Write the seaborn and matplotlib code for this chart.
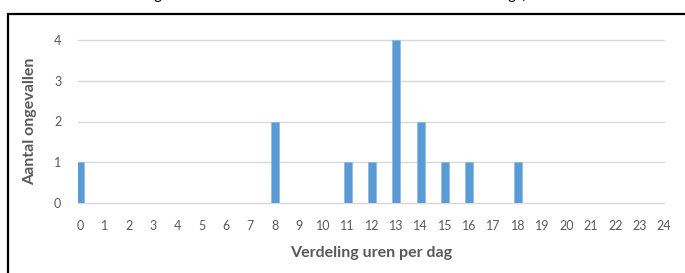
import matplotlib
matplotlib.use("Agg")
import matplotlib.pyplot as plt
import seaborn as sns
import pandas as pd
from matplotlib.patches import Rectangle

hours = [0, 8, 11, 12, 13, 14, 15, 16, 18]
counts = [1, 2, 1, 1, 4, 2, 1, 1, 1]
x_ticks = list(range(0, 25))
y_ticks = [0, 1, 2, 3, 4]
x_label = "Verdeling uren per dag"
y_label = "Aantal ongevallen"

df = pd.DataFrame({"uur": hours, "aantal": counts})

sns.set_theme(style="white")
plt.rcParams["font.family"] = ["Lato", "DejaVu Sans"]

W, H = 685, 273
fig = plt.figure(figsize=(W / 100, H / 100), dpi=100)
left, right, top, bottom = 78, 664, 40, 203
ax = fig.add_axes([left / W, 1 - bottom / H, (right - left) / W, (bottom - top) / H])

sns.barplot(data=df, x="uur", y="aantal", native_scale=True, width=0.32,
            color="#5B9BD5", saturation=1, ax=ax, zorder=3,
            edgecolor="#8DB8E0", linewidth=0.5)

ax.set_xlim(-0.08, 24.0)
ax.set_ylim(0, 4)
ax.set_xticks(x_ticks)
ax.set_xticklabels([str(t) for t in x_ticks])
ax.set_yticks(y_ticks)
for s in ax.spines.values():
    s.set_visible(False)
ax.grid(False)
for yv in y_ticks:
    ax.axhline(yv, color="#D9D9D9", lw=1.0, zorder=1, clip_on=False)
ax.tick_params(axis="both", length=0, labelsize=9, labelcolor="#595959")
ax.tick_params(axis="x", pad=12)
ax.tick_params(axis="y", pad=12)
ax.set_xlabel(x_label, fontsize=11.5, fontweight="bold", color="#595959", labelpad=10)
ax.set_ylabel(y_label, fontsize=11.5, fontweight="bold", color="#595959", labelpad=12)

# document frame
fig.patches.append(Rectangle((7.5 / W, -0.1), 1.2, 1 - 13.5 / H + 0.1,
                             transform=fig.transFigure, fill=False,
                             edgecolor="black", lw=1.6))
# cut-off text fragments above the frame
for xp, t in [(157, "g"), (512, "g"), (522, "(")]:
    fig.text(xp / W, 1 + 1.5 / H, t, fontsize=11, color="black", ha="center",
             va="baseline")

fig.savefig("out.png", dpi=100)
